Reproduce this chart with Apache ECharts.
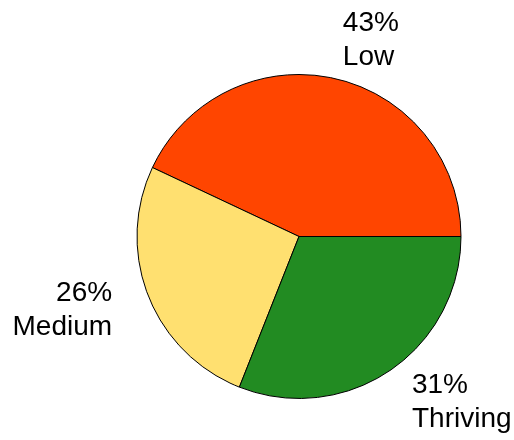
<!DOCTYPE html>
<html>
<head>
<meta charset="utf-8">
<script src="https://cdn.jsdelivr.net/npm/echarts@6/dist/echarts.min.js"></script>
<style>
  html, body { margin: 0; padding: 0; background: #fff; }
  #chart { width: 514px; height: 440px; }
</style>
</head>
<body>
<div id="chart"></div>
<script>
var categories = ['Low', 'Medium', 'Thriving'];
var shares = [43, 26, 31];
var sliceColors = ['#FF4500', '#FFE070', '#228B22'];

var chart = echarts.init(document.getElementById('chart'));

var option = {
    animation: false,
    series: [
        {
            type: 'pie',
            center: [299, 236.5],
            radius: 162,
            startAngle: 0,
            clockwise: false, // R draws counterclockwise from 3 o'clock
            avoidLabelOverlap: false,
            itemStyle: {
                borderColor: '#000',
                borderWidth: 1
            },
            label: {
                show: true,
                position: 'outside',
                formatter: function (p) {
                    return p.value + '%\n' + p.name;
                },
                fontFamily: 'Liberation Sans, Arial, sans-serif',
                fontSize: 28,
                lineHeight: 34,
                color: '#000',
                distanceToLabelLine: 0
            },
            labelLine: {
                show: false,
                length: 39,
                length2: 0
            },
            emphasis: { disabled: true },
            data: categories.map(function (c, i) {
                return { name: c, value: shares[i], itemStyle: { color: sliceColors[i] } };
            })
        }
    ]
};
chart.setOption(option);
</script>
</body>
</html>
